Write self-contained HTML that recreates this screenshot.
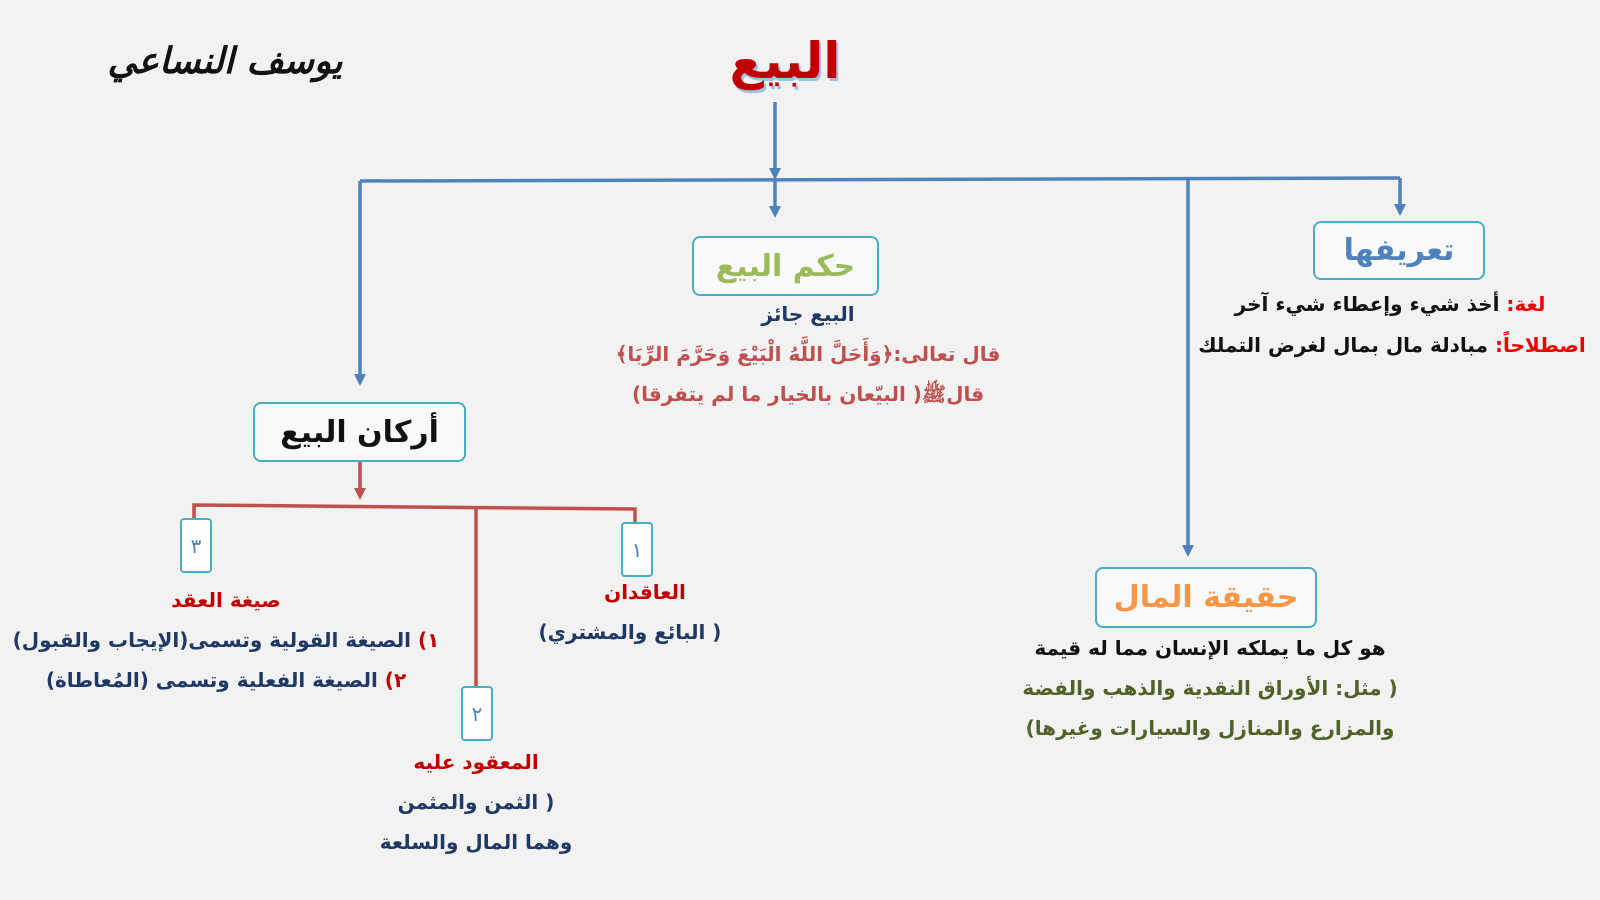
<!DOCTYPE html>
<html><head><meta charset="utf-8"><style>
body{margin:0;width:1600px;height:900px;background:#f2f2f2;position:relative;overflow:hidden;font-family:"DejaVu Sans",sans-serif;font-weight:bold}
.t{position:absolute;direction:rtl;text-align:center;white-space:nowrap;transform:translateX(-50%)}
.box{position:absolute;border:2px solid #4bacc6;border-radius:8px;background:#f8f9fa;display:flex;align-items:center;justify-content:center;direction:rtl}
.nb{position:absolute;border:2.5px solid #4bacc6;border-radius:4px;background:#fff;color:#4f81bd;font-size:20px;font-weight:normal;display:flex;align-items:center;justify-content:center}
</style></head><body>
<svg width="1600" height="900" style="position:absolute;left:0;top:0">
<g stroke="#4f81bd" stroke-width="3.5" fill="none">
<line x1="775" y1="102" x2="775" y2="176"/>
<line x1="360" y1="181" x2="1400" y2="178"/>
<line x1="360" y1="181" x2="360" y2="378"/>
<line x1="775" y1="178" x2="775" y2="212"/>
<line x1="1400" y1="178" x2="1400" y2="210"/>
<line x1="1188" y1="178" x2="1188" y2="548"/>
</g>
<g fill="#4f81bd">
<path d="M769,168 L781,168 L775,180z"/>
<path d="M769,206 L781,206 L775,218z"/>
<path d="M1394,204 L1406,204 L1400,216z"/>
<path d="M354,374 L366,374 L360,386z"/>
<path d="M1182,545 L1194,545 L1188,557z"/>
</g>
<g stroke="#c0504d" stroke-width="3.5" fill="none">
<line x1="360" y1="460" x2="360" y2="492"/>
<polyline points="194,518 194,505 635,509 635,522"/>
<line x1="476" y1="507" x2="476" y2="686"/>
</g>
<path d="M354,488 L366,488 L360,500z" fill="#c0504d"/>
</svg>

<div class="t" style="left:785px;top:32px;font-size:50px;color:#c00000;text-shadow:2px 3px 0 #9cc3e6">البيع</div>
<div class="t" style="left:225px;top:40px;font-size:36px;color:#111;font-family:'DejaVu Serif',serif;font-style:italic">يوسف النساعي</div>

<div class="box" style="left:1313px;top:221px;width:168px;height:55px;color:#4f81bd;font-size:30px">تعريفها</div>
<div class="t" style="left:1390px;top:292px;font-size:20px;color:#111"><span style="color:#e00">لغة:</span> أخذ شيء وإعطاء شيء آخر</div>
<div class="t" style="left:1392px;top:333px;font-size:20px;color:#111"><span style="color:#e00">اصطلاحاً:</span> مبادلة مال بمال لغرض التملك</div>

<div class="box" style="left:692px;top:236px;width:183px;height:56px;color:#9bbb59;font-size:30px">حكم البيع</div>
<div class="t" style="left:808px;top:302px;font-size:20px;color:#1f3864">البيع جائز</div>
<div class="t" style="left:808px;top:342px;font-size:20px;color:#c0504d">قال تعالى:﴿وَأَحَلَّ اللَّهُ الْبَيْعَ وَحَرَّمَ الرِّبَا﴾</div>
<div class="t" style="left:808px;top:382px;font-size:20px;color:#c0504d">قالﷺ( البيّعان بالخيار ما لم يتفرقا)</div>

<div class="box" style="left:253px;top:402px;width:209px;height:56px;color:#111;font-size:30px">أركان البيع</div>

<div class="box" style="left:1095px;top:567px;width:218px;height:57px;color:#f79646;font-size:30px">حقيقة المال</div>
<div class="t" style="left:1210px;top:636px;font-size:20px;color:#111">هو كل ما يملكه الإنسان مما له قيمة</div>
<div class="t" style="left:1210px;top:676px;font-size:20px;color:#4f6228">( مثل: الأوراق النقدية والذهب والفضة</div>
<div class="t" style="left:1210px;top:716px;font-size:20px;color:#4f6228">والمزارع والمنازل والسيارات وغيرها)</div>

<div class="nb" style="left:180px;top:518px;width:28px;height:51px">٣</div>
<div class="nb" style="left:621px;top:522px;width:28px;height:51px">١</div>
<div class="nb" style="left:461px;top:686px;width:28px;height:51px">٢</div>

<div class="t" style="left:645px;top:580px;font-size:20px;color:#c00000">العاقدان</div>
<div class="t" style="left:630px;top:620px;font-size:20px;color:#1f3864">( البائع والمشتري)</div>

<div class="t" style="left:226px;top:588px;font-size:20px;color:#c00000">صيغة العقد</div>
<div class="t" style="left:226px;top:628px;font-size:20px;color:#1f3864"><span style="color:#c00000">١)</span> الصيغة القولية وتسمى(الإيجاب والقبول)</div>
<div class="t" style="left:226px;top:668px;font-size:20px;color:#1f3864"><span style="color:#c00000">٢)</span> الصيغة الفعلية وتسمى (المُعاطاة)</div>

<div class="t" style="left:476px;top:750px;font-size:20px;color:#c00000">المعقود عليه</div>
<div class="t" style="left:476px;top:790px;font-size:20px;color:#1f3864">( الثمن والمثمن</div>
<div class="t" style="left:476px;top:830px;font-size:20px;color:#1f3864">وهما المال والسلعة</div>
</body></html>
